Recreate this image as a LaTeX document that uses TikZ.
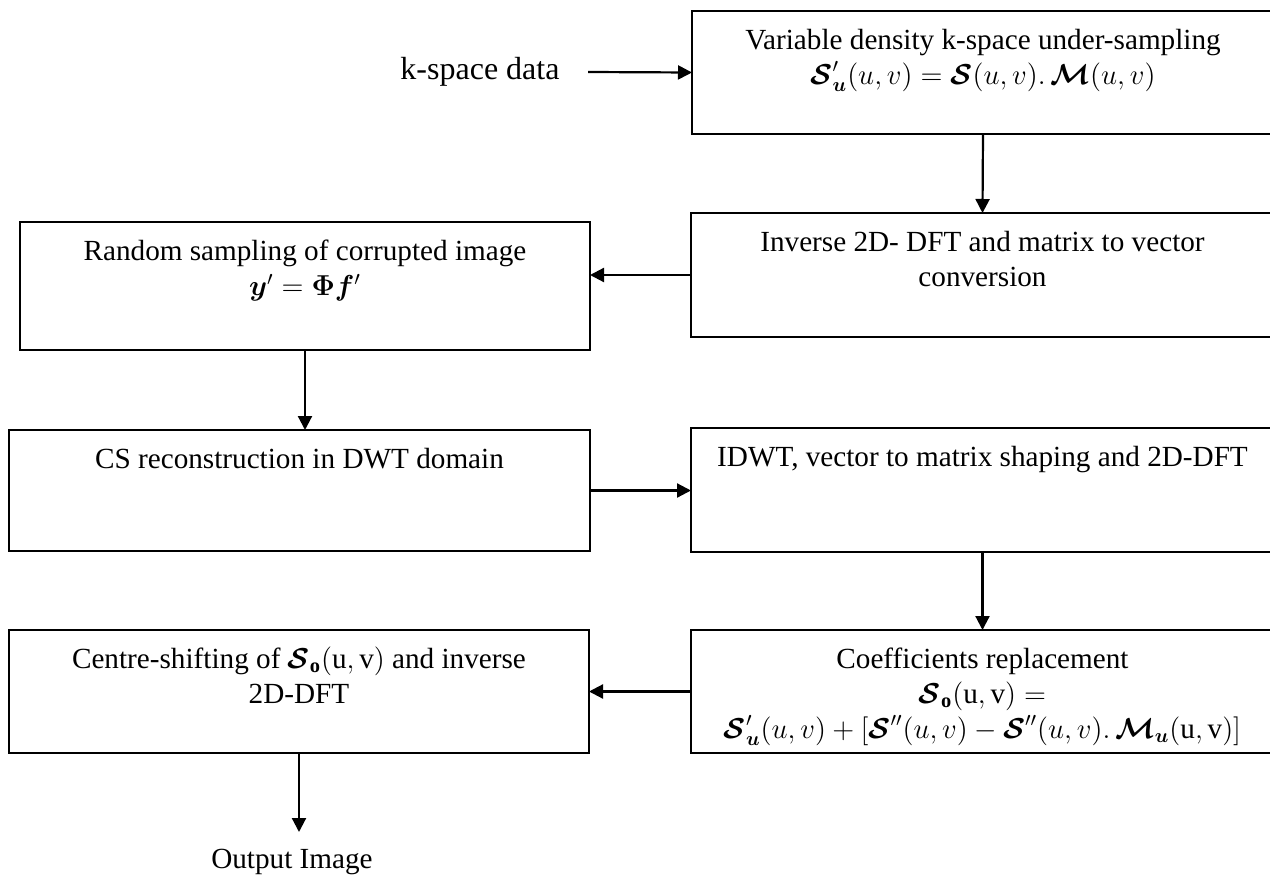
\documentclass[tikz,border=0pt]{standalone}
\usepackage{amsmath,bm}
\usepackage{fontspec}
\setmainfont{Liberation Serif}
\usetikzlibrary{arrows.meta}

% text block of a box: fixed size, lines centred and hung from the top
\newcommand{\blocktext}[3]{\parbox[c][#2][t]{#1}{\vspace*{7pt}\centering #3\par}}
\newcommand{\cS}{\bm{\mathcal{S}}}
\newcommand{\cM}{\bm{\mathcal{M}}}

\tikzset{
  stepbox/.style={draw, line width=0.85pt, inner sep=0pt, outer sep=0pt,
    font=\fontsize{14.6}{17.5}\selectfont},
  flow/.style={-{Triangle[length=7pt,width=7pt]}, line width=1.1pt},
  plain/.style={inner sep=0pt, font=\fontsize{14.6}{17.5}\selectfont}
}

\begin{document}
\begin{tikzpicture}[x=0.5pt, y=-0.5pt]
\useasboundingbox (0,0) rectangle (1270,878);

% right column
\node[stepbox] (b1) at (983,72.5) {\blocktext{291pt}{61.5pt}{%
  \strut Variable density k-space under-sampling\\
  \strut $\cS'_{\bm{u}}(u,v)=\cS(u,v).\,\cM(u,v)$}};
\node[stepbox] (b2) at (982.5,275) {\blocktext{291.5pt}{62pt}{%
  \strut Inverse 2D- DFT and matrix to vector\\
  \strut conversion}};
\node[stepbox] (b5) at (982.5,490) {\blocktext{291.5pt}{62pt}{%
  \strut IDWT, vector to matrix shaping and 2D-DFT}};
\node[stepbox] (b6) at (982.5,691.5) {\blocktext{291.5pt}{61.5pt}{%
  \strut Coefficients replacement\\
  \strut $\cS_{\mathbf{o}}(\mathrm{u,v})=$\\
  \strut $\cS'_{\bm{u}}(u,v)+[\cS''(u,v)-\cS''(u,v).\,\cM_{\bm{u}}(\mathrm{u,v})]$}};

% left column
\node[stepbox] (b3) at (305,286) {\blocktext{285pt}{64pt}{%
  \strut Random sampling of corrupted image\\
  \strut $\bm{y}'=\bm{\Phi}\bm{f}'$}};
\node[stepbox] (b4) at (299.5,490.5) {\blocktext{290.5pt}{60.5pt}{%
  \strut CS reconstruction in DWT domain}};
\node[stepbox] (b7) at (299,691.5) {\blocktext{290pt}{61.5pt}{%
  \strut Centre-shifting of $\cS_{\mathbf{o}}(\mathrm{u,v})$ and inverse\\
  \strut 2D-DFT}};

% input and output labels
\node[plain, font=\fontsize{16}{19}\selectfont] (kdata) at (480,72) {k-space data};
\coordinate (kstart) at (588,72);
\node[plain] (out) at (292,862) {Output Image};
\coordinate (outtip) at (299,832);

% connectors
\draw[flow] (kstart) -- (b1.west);
\draw[flow] (b1.south) -- (b2.north);
\draw[flow] (b2.west) -- (b2.west -| b3.east);
\draw[flow] (b3.south) -- (b3.south |- b4.north);
\draw[flow] (b4.east) -- (b4.east -| b5.west);
\draw[flow] (b5.south) -- (b6.north);
\draw[flow] (b6.west) -- (b6.west -| b7.east);
\draw[flow] (b7.south) -- (outtip);
\end{tikzpicture}
\end{document}
